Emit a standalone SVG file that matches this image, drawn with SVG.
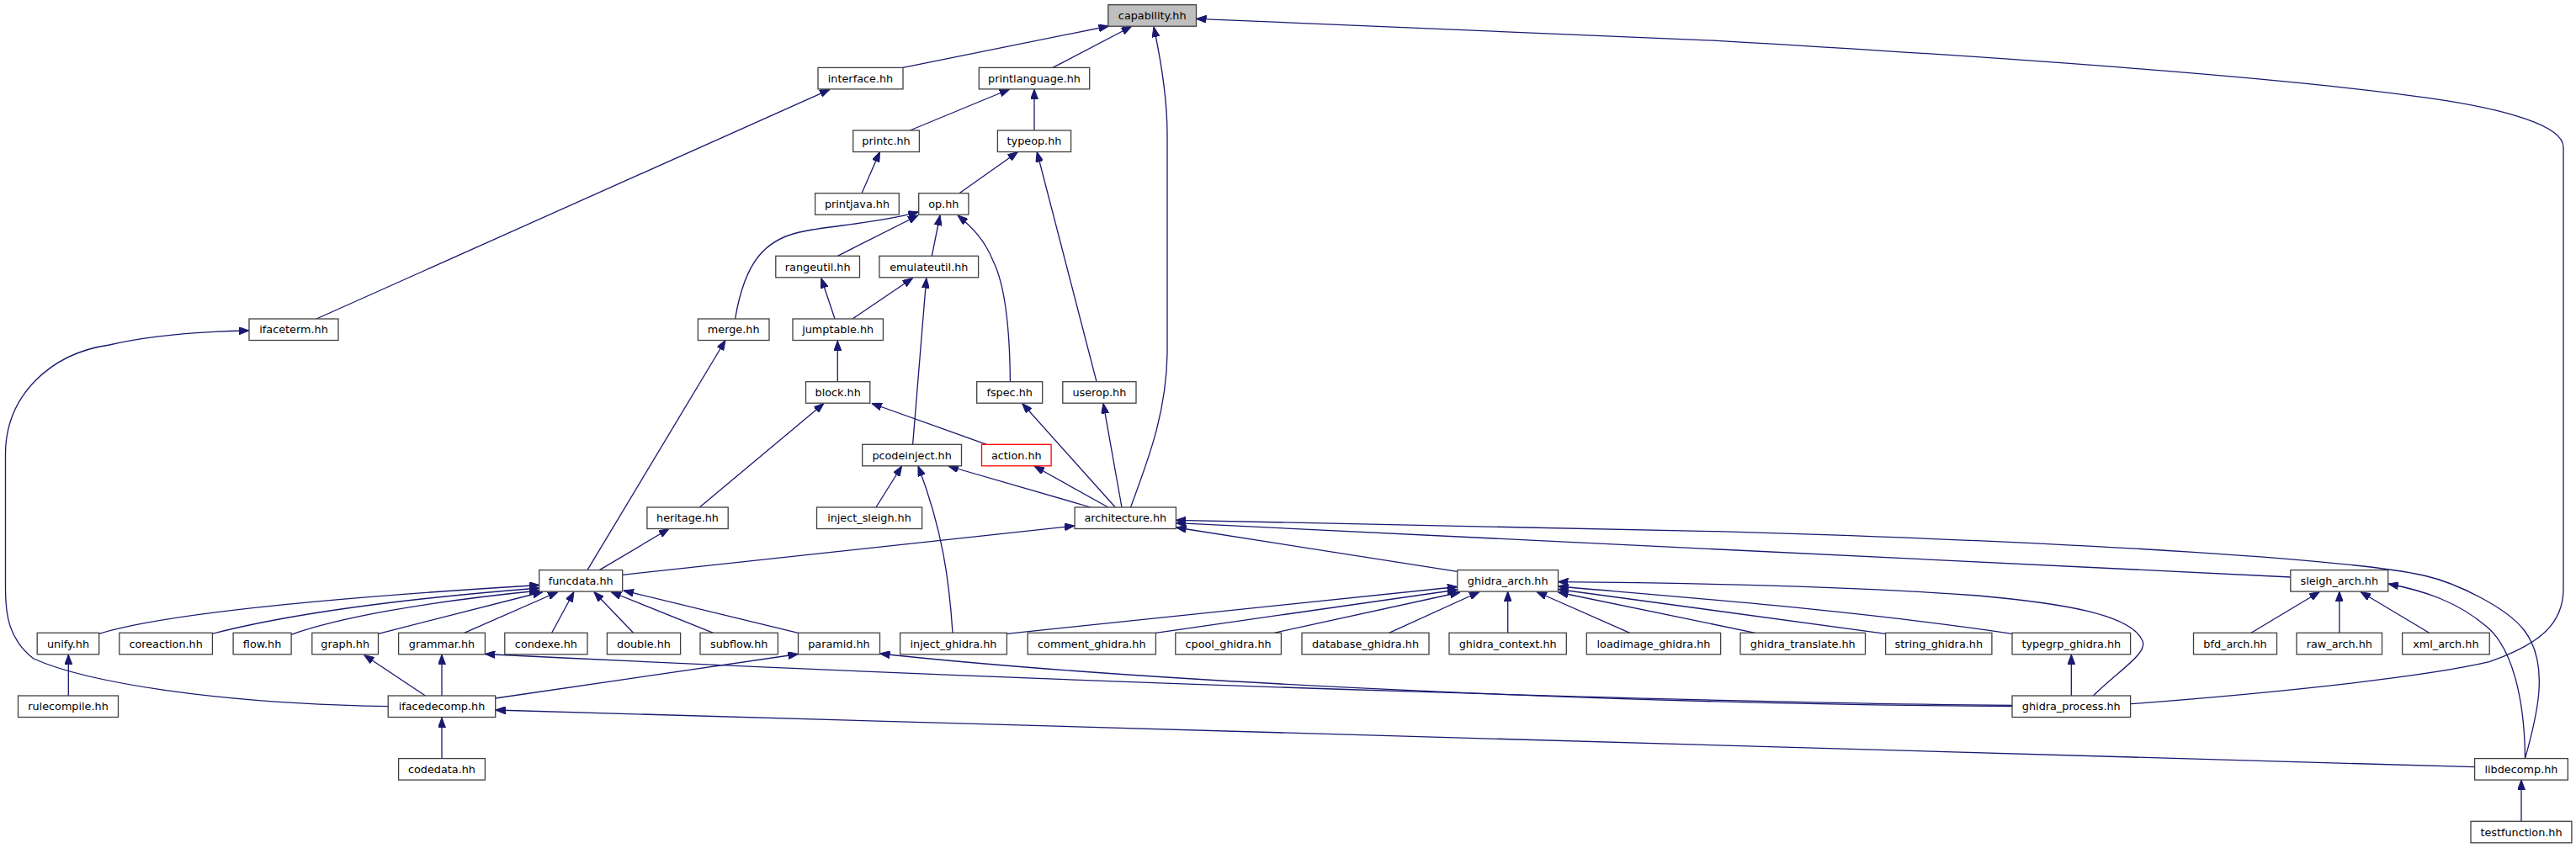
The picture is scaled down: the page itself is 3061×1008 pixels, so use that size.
<svg xmlns="http://www.w3.org/2000/svg" width="3061" height="1008" viewBox="0 0 3061 1008">
<style>
.n rect{fill:#fff;stroke:#404040;stroke-width:1.3}
.n text{font-family:"DejaVu Sans",sans-serif;font-size:12.8px;text-anchor:middle;fill:#000}
.e path{fill:none;stroke:#191970;stroke-width:1.3;marker-end:url(#a)}
</style>
<defs>
<marker id="a" markerUnits="userSpaceOnUse" viewBox="0 0 12 9" refX="12" refY="4.5" markerWidth="12" markerHeight="9" orient="auto"><path d="M0,0L12,4.5L0,9z" fill="#191970" stroke="#191970" stroke-width="1"/></marker>
</defs>
<rect width="3061" height="1008" fill="#fff"/>
<g id="edges" class="e">
<path d="M1072.9,80.4L1317.5,31"/>
<path d="M1251,80.4L1344.5,31.5"/>
<path d="M1343.5,603C1365,545 1386,490 1387,420L1387,160C1387,110 1377,60 1371,32"/>
<path d="M2531.6,836.7C2700,824 2880,805 2958,786.7C3020,765 3046,740 3046,700L3046,175C3046,150 2980,130 2886.6,116.7C2750,97 2500,75 2040,48.3L1421.5,22.3"/>
<path d="M376,379L986,106.3"/>
<path d="M461.2,839.7C250,836 100,810 40,783C10,760 6.5,730 6.5,700L6.5,540C6.5,470 60,420 130,410C180,398 240,394 296,393"/>
<path d="M1081.3,155L1199.7,106"/>
<path d="M1229,155L1229,106"/>
<path d="M1024,229.7L1045.5,180.5"/>
<path d="M1139.9,229.7L1209.5,180.5"/>
<path d="M1303,453.7L1232.2,180.5"/>
<path d="M873.6,379C885,310 910,285 950,276C985,268 1040,266 1091.5,252"/>
<path d="M995.3,304.3L1091,256"/>
<path d="M1107.3,304.3L1117,256"/>
<path d="M1200.4,453.7C1200,400 1195,340 1180,310C1170,285 1155,270 1138,256"/>
<path d="M992,379L975.8,330.5"/>
<path d="M1013,379L1084.6,330.5"/>
<path d="M1084.6,528.3L1100.8,330.5"/>
<path d="M995.3,453.7L995.3,405"/>
<path d="M831.3,603L979,479.5"/>
<path d="M1172.4,528.3L1035.8,479.5"/>
<path d="M1325.3,603L1214.7,479.5"/>
<path d="M1333,603L1311,479.5"/>
<path d="M1041,603L1071.6,554"/>
<path d="M1132,752.3C1128,690 1120,630 1091,554"/>
<path d="M1296,603L1126.8,554"/>
<path d="M1316.8,603L1229,554"/>
<path d="M712.3,677.6L795,628.5"/>
<path d="M698,677.6L862,404.5"/>
<path d="M739.6,683.3L1277,625"/>
<path d="M1731.8,679.3L1397.5,627"/>
<path d="M2721.8,686L1397.4,621.7"/>
<path d="M3000.5,901.6C3015,850 3030,790 3000,750C2980,723 2920,693 2880,684C2800,666 2500,645 2040,631.7L1397.4,618.3"/>
<path d="M117.7,753.3C200,728 400,710 641,695.5"/>
<path d="M252.4,753.3C350,728 500,710 641,699"/>
<path d="M346,754.3C400,735 500,716 641,702"/>
<path d="M449.5,753.3L645,703.5"/>
<path d="M551.6,752.3L663,703.5"/>
<path d="M655.7,752.3L682,703.5"/>
<path d="M752.6,752.3L705.8,703.5"/>
<path d="M847.6,752.3L726,703.5"/>
<path d="M948.4,752.3L741,702"/>
<path d="M81.3,827L81.3,778"/>
<path d="M505.4,827L432.6,778.5"/>
<path d="M525,827L525,778"/>
<path d="M588.7,830L948.4,777.5"/>
<path d="M525,901.6L525,853"/>
<path d="M2940.6,911.7L588.7,844"/>
<path d="M2391,838.3C2100,836 1400,818 576.4,777.5"/>
<path d="M2391,839.5C2000,838 1400,815 1045.5,777"/>
<path d="M1196.4,753.3L1731.8,697.5"/>
<path d="M1373.4,752.3L1731.8,701"/>
<path d="M1514,752.3L1735,704"/>
<path d="M1650.5,752.3L1757.9,703.5"/>
<path d="M1791.7,752.3L1791.7,703"/>
<path d="M1936.7,752.3L1826,703.5"/>
<path d="M2085.6,752.3L1851.5,704"/>
<path d="M2240.6,753.3L1851.5,700.5"/>
<path d="M2391,753.3C2200,725 2000,710 1851.5,697"/>
<path d="M2487.4,827C2520,795 2555,775 2545,760C2530,730 2450,717 2350,708C2200,697 2000,693 1851.5,691.7"/>
<path d="M2675,752.3L2756.3,703.5"/>
<path d="M2779.8,752.3L2779.8,703"/>
<path d="M2886.6,752.3L2805,703.5"/>
<path d="M3000.5,901.6C3000,830 2985,770 2955,745C2920,715 2880,702 2838,694"/>
<path d="M2461.3,827L2461.3,778"/>
<path d="M2996,976.3L2996,927"/>
</g>
<g id="capability" class="n"><rect x="1316.8" y="5.7" width="104.7" height="25.5" style="fill:#bfbfbf"/><text x="1369.2" y="23.1">capability.hh</text></g>
<g id="interface" class="n"><rect x="972" y="80.4" width="101" height="25.5"/><text x="1022.5" y="97.8">interface.hh</text></g>
<g id="printlanguage" class="n"><rect x="1163.3" y="80.4" width="131.4" height="25.5"/><text x="1229" y="97.8">printlanguage.hh</text></g>
<g id="printc" class="n"><rect x="1013.7" y="155" width="78.7" height="25.5"/><text x="1053" y="172.4">printc.hh</text></g>
<g id="typeop" class="n"><rect x="1185.4" y="155" width="87.2" height="25.5"/><text x="1229" y="172.4">typeop.hh</text></g>
<g id="printjava" class="n"><rect x="968.6" y="229.7" width="99.7" height="25.5"/><text x="1018.5" y="247.1">printjava.hh</text></g>
<g id="op" class="n"><rect x="1091.7" y="229.7" width="59.2" height="25.5"/><text x="1121.3" y="247.1">op.hh</text></g>
<g id="rangeutil" class="n"><rect x="921.8" y="304.3" width="99.7" height="25.5"/><text x="971.7" y="321.7">rangeutil.hh</text></g>
<g id="emulateutil" class="n"><rect x="1044.9" y="304.3" width="117.7" height="25.5"/><text x="1103.8" y="321.7">emulateutil.hh</text></g>
<g id="ifaceterm" class="n"><rect x="296" y="379" width="106" height="25.5"/><text x="349" y="396.4">ifaceterm.hh</text></g>
<g id="merge" class="n"><rect x="829.4" y="379" width="84.6" height="25.5"/><text x="871.7" y="396.4">merge.hh</text></g>
<g id="jumptable" class="n"><rect x="942" y="379" width="107.4" height="25.5"/><text x="995.7" y="396.4">jumptable.hh</text></g>
<g id="block" class="n"><rect x="957.5" y="453.7" width="76.3" height="25.5"/><text x="995.7" y="471.1">block.hh</text></g>
<g id="fspec" class="n"><rect x="1160.7" y="453.7" width="78" height="25.5"/><text x="1199.7" y="471.1">fspec.hh</text></g>
<g id="userop" class="n"><rect x="1262.8" y="453.7" width="87.2" height="25.5"/><text x="1306.4" y="471.1">userop.hh</text></g>
<g id="pcodeinject" class="n"><rect x="1024.7" y="528.3" width="117.8" height="25.5"/><text x="1083.6" y="545.7">pcodeinject.hh</text></g>
<g id="action" class="n"><rect x="1166.5" y="528.3" width="82.6" height="25.5" style="stroke:#ff0000"/><text x="1207.8" y="545.7">action.hh</text></g>
<g id="heritage" class="n"><rect x="768.9" y="603" width="96.3" height="25.5"/><text x="817" y="620.4">heritage.hh</text></g>
<g id="inject_sleigh" class="n"><rect x="970.5" y="603" width="125.1" height="25.5"/><text x="1033" y="620.4">inject_sleigh.hh</text></g>
<g id="architecture" class="n"><rect x="1277.1" y="603" width="120.3" height="25.5"/><text x="1337.3" y="620.4">architecture.hh</text></g>
<g id="funcdata" class="n"><rect x="640.7" y="677.6" width="99" height="25.5"/><text x="690.2" y="695">funcdata.hh</text></g>
<g id="ghidra_arch" class="n"><rect x="1731.8" y="677.6" width="119.7" height="25.5"/><text x="1791.7" y="695">ghidra_arch.hh</text></g>
<g id="sleigh_arch" class="n"><rect x="2721.8" y="677.6" width="115.9" height="25.5"/><text x="2779.8" y="695">sleigh_arch.hh</text></g>
<g id="unify" class="n"><rect x="44.2" y="752.3" width="73.5" height="25.5"/><text x="81" y="769.7">unify.hh</text></g>
<g id="coreaction" class="n"><rect x="141.8" y="752.3" width="110.6" height="25.5"/><text x="197.1" y="769.7">coreaction.hh</text></g>
<g id="flow" class="n"><rect x="277.1" y="752.3" width="69" height="25.5"/><text x="311.6" y="769.7">flow.hh</text></g>
<g id="graph" class="n"><rect x="370.8" y="752.3" width="78.7" height="25.5"/><text x="410.2" y="769.7">graph.hh</text></g>
<g id="grammar" class="n"><rect x="473.6" y="752.3" width="102.8" height="25.5"/><text x="525" y="769.7">grammar.hh</text></g>
<g id="condexe" class="n"><rect x="599.8" y="752.3" width="98.2" height="25.5"/><text x="648.9" y="769.7">condexe.hh</text></g>
<g id="double" class="n"><rect x="721.4" y="752.3" width="87.2" height="25.5"/><text x="765" y="769.7">double.hh</text></g>
<g id="subflow" class="n"><rect x="832" y="752.3" width="92.4" height="25.5"/><text x="878.2" y="769.7">subflow.hh</text></g>
<g id="paramid" class="n"><rect x="948.5" y="752.3" width="97" height="25.5"/><text x="997" y="769.7">paramid.hh</text></g>
<g id="inject_ghidra" class="n"><rect x="1069.6" y="752.3" width="126.8" height="25.5"/><text x="1133" y="769.7">inject_ghidra.hh</text></g>
<g id="comment_ghidra" class="n"><rect x="1221.2" y="752.3" width="152.2" height="25.5"/><text x="1297.3" y="769.7">comment_ghidra.hh</text></g>
<g id="cpool_ghidra" class="n"><rect x="1396.8" y="752.3" width="125.6" height="25.5"/><text x="1459.6" y="769.7">cpool_ghidra.hh</text></g>
<g id="database_ghidra" class="n"><rect x="1547" y="752.3" width="151" height="25.5"/><text x="1622.5" y="769.7">database_ghidra.hh</text></g>
<g id="ghidra_context" class="n"><rect x="1722" y="752.3" width="139.3" height="25.5"/><text x="1791.7" y="769.7">ghidra_context.hh</text></g>
<g id="loadimage_ghidra" class="n"><rect x="1885.3" y="752.3" width="159.3" height="25.5"/><text x="1965" y="769.7">loadimage_ghidra.hh</text></g>
<g id="ghidra_translate" class="n"><rect x="2068" y="752.3" width="148.5" height="25.5"/><text x="2142.3" y="769.7">ghidra_translate.hh</text></g>
<g id="string_ghidra" class="n"><rect x="2240.6" y="752.3" width="126.3" height="25.5"/><text x="2303.8" y="769.7">string_ghidra.hh</text></g>
<g id="typegrp_ghidra" class="n"><rect x="2391" y="752.3" width="140.6" height="25.5"/><text x="2461.3" y="769.7">typegrp_ghidra.hh</text></g>
<g id="bfd_arch" class="n"><rect x="2606.5" y="752.3" width="99" height="25.5"/><text x="2656" y="769.7">bfd_arch.hh</text></g>
<g id="raw_arch" class="n"><rect x="2729" y="752.3" width="101.5" height="25.5"/><text x="2779.8" y="769.7">raw_arch.hh</text></g>
<g id="xml_arch" class="n"><rect x="2854.6" y="752.3" width="103.6" height="25.5"/><text x="2906.4" y="769.7">xml_arch.hh</text></g>
<g id="rulecompile" class="n"><rect x="21.5" y="827" width="119" height="25.5"/><text x="81" y="844.4">rulecompile.hh</text></g>
<g id="ifacedecomp" class="n"><rect x="461.2" y="827" width="127.5" height="25.5"/><text x="525" y="844.4">ifacedecomp.hh</text></g>
<g id="ghidra_process" class="n"><rect x="2391" y="827" width="140.6" height="25.5"/><text x="2461.3" y="844.4">ghidra_process.hh</text></g>
<g id="codedata" class="n"><rect x="473.6" y="901.6" width="102.8" height="25.5"/><text x="525" y="919">codedata.hh</text></g>
<g id="libdecomp" class="n"><rect x="2940.6" y="901.6" width="110.7" height="25.5"/><text x="2996" y="919">libdecomp.hh</text></g>
<g id="testfunction" class="n"><rect x="2936" y="976.3" width="119.9" height="25.5"/><text x="2996" y="993.7">testfunction.hh</text></g>
</svg>
